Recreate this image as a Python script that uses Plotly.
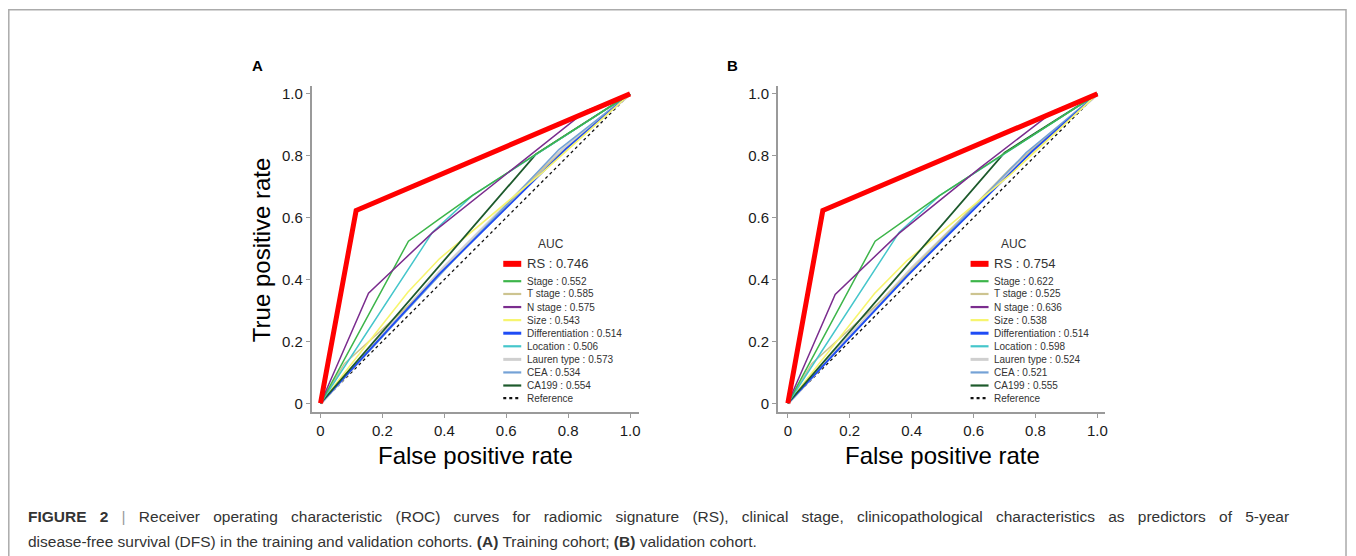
import plotly.graph_objects as go

# ---------------- data ----------------
labels = ["RS", "Stage", "T stage", "N stage", "Size", "Differentiation",
          "Location", "Lauren type", "CEA", "CA199"]
auc_A = ["0.746", "0.552", "0.585", "0.575", "0.543", "0.514", "0.506", "0.573", "0.534", "0.554"]
auc_B = ["0.754", "0.622", "0.525", "0.636", "0.538", "0.514", "0.598", "0.524", "0.521", "0.555"]
tick_vals = [0, 0.2, 0.4, 0.6, 0.8, 1.0]
tick_text = ["0", "0.2", "0.4", "0.6", "0.8", "1.0"]

# Panel A (training cohort) ROC points
A_rs_fpr = [0, 0.115, 1]
A_rs_tpr = [0, 0.623, 1]
A_stage_fpr = [0, 0.284, 0.384, 0.49, 0.696, 1]
A_stage_tpr = [0, 0.524, 0.596, 0.671, 0.805, 1]
A_tstage_fpr = [0, 0.077, 0.3, 0.72, 1]
A_tstage_tpr = [0, 0.128, 0.33, 0.76, 1]
A_nstage_fpr = [0, 0.155, 0.36, 0.6, 0.857, 1]
A_nstage_tpr = [0, 0.356, 0.55, 0.741, 0.945, 1]
A_size_fpr = [0, 0.282, 0.384, 0.717, 1]
A_size_tpr = [0, 0.359, 0.467, 0.746, 1]
A_diff_fpr = [0, 0.384, 0.793, 1]
A_diff_tpr = [0, 0.418, 0.822, 1]
A_loc_fpr = [0, 0.362, 0.49, 0.696, 1]
A_loc_tpr = [0, 0.553, 0.671, 0.805, 1]
A_lauren_fpr = [0, 0.4, 0.76, 1]
A_lauren_tpr = [0, 0.44, 0.8, 1]
A_cea_fpr = [0, 0.4, 0.77, 1]
A_cea_tpr = [0, 0.43, 0.82, 1]
A_ca199_fpr = [0, 0.696, 1]
A_ca199_tpr = [0, 0.805, 1]

# Panel B (validation cohort) ROC points
B_rs_fpr = [0, 0.113, 1]
B_rs_tpr = [0, 0.623, 1]
B_stage_fpr = [0, 0.282, 0.384, 0.49, 0.696, 1]
B_stage_tpr = [0, 0.524, 0.596, 0.671, 0.805, 1]
B_tstage_fpr = [0, 0.077, 0.3, 0.72, 1]
B_tstage_tpr = [0, 0.128, 0.33, 0.76, 1]
B_nstage_fpr = [0, 0.153, 0.36, 0.62, 0.86, 1]
B_nstage_tpr = [0, 0.352, 0.55, 0.76, 0.945, 1]
B_size_fpr = [0, 0.28, 0.384, 0.72, 1]
B_size_tpr = [0, 0.355, 0.46, 0.74, 1]
B_diff_fpr = [0, 0.384, 0.79, 1]
B_diff_tpr = [0, 0.41, 0.815, 1]
B_loc_fpr = [0, 0.36, 0.49, 0.696, 1]
B_loc_tpr = [0, 0.553, 0.671, 0.805, 1]
B_lauren_fpr = [0, 0.4, 0.76, 1]
B_lauren_tpr = [0, 0.435, 0.79, 1]
B_cea_fpr = [0, 0.4, 0.77, 1]
B_cea_tpr = [0, 0.425, 0.81, 1]
B_ca199_fpr = [0, 0.7, 1]
B_ca199_tpr = [0, 0.81, 1]

ref_x = [0, 1]
ref_y = [0, 1]

# ---------------- styles ----------------
colors = ["#ff0000", "#3db54a", "#cdc490", "#7b2d8e", "#f7f56e", "#1f4cf5",
          "#45c6cb", "#cfcfcf", "#74a2d6", "#1d5a2c"]
widths = [5, 1.5, 1.5, 1.5, 1.6, 1.8, 1.5, 3.5, 1.5, 1.8]
draw_order = [7, 2, 8, 5, 4, 9, 6, 1, 3, 0]

# page body has an 8px margin, so the figure is 8px smaller and offset
OFF = 8
W, H = 1356 - OFF, 556 - OFF
FONT = "Liberation Sans, Arial, Helvetica, sans-serif"


def px(x):
    return (x - OFF) / W


def py(y):
    return 1 - (y - OFF) / H


A_curves = [(A_rs_fpr, A_rs_tpr), (A_stage_fpr, A_stage_tpr), (A_tstage_fpr, A_tstage_tpr),
            (A_nstage_fpr, A_nstage_tpr), (A_size_fpr, A_size_tpr), (A_diff_fpr, A_diff_tpr),
            (A_loc_fpr, A_loc_tpr), (A_lauren_fpr, A_lauren_tpr), (A_cea_fpr, A_cea_tpr),
            (A_ca199_fpr, A_ca199_tpr)]
B_curves = [(B_rs_fpr, B_rs_tpr), (B_stage_fpr, B_stage_tpr), (B_tstage_fpr, B_tstage_tpr),
            (B_nstage_fpr, B_nstage_tpr), (B_size_fpr, B_size_tpr), (B_diff_fpr, B_diff_tpr),
            (B_loc_fpr, B_loc_tpr), (B_lauren_fpr, B_lauren_tpr), (B_cea_fpr, B_cea_tpr),
            (B_ca199_fpr, B_ca199_tpr)]

fig = go.Figure()

for curves, aucs, xa, ya in [(A_curves, auc_A, "x", "y"), (B_curves, auc_B, "x2", "y2")]:
    fig.add_trace(go.Scatter(x=ref_x, y=ref_y, mode="lines", xaxis=xa, yaxis=ya,
                             line=dict(color="#111111", width=1.3, dash="dot"),
                             name="Reference", showlegend=False, hoverinfo="skip"))
    for i in draw_order:
        fx, ty = curves[i]
        fig.add_trace(go.Scatter(x=fx, y=ty, mode="lines", xaxis=xa, yaxis=ya,
                                 line=dict(color=colors[i], width=widths[i]),
                                 name=f"{labels[i]} : {aucs[i]}", showlegend=False))

axis_common = dict(showline=True, linecolor="#9a9a9a", linewidth=1.5, ticks="outside",
                   ticklen=4, tickcolor="#9a9a9a", tickwidth=1, tickvals=tick_vals,
                   ticktext=tick_text, showgrid=False, zeroline=False,
                   tickfont=dict(family=FONT, size=15, color="#1a1a1a"), mirror=False)

fig.update_layout(
    width=W, height=H, margin=dict(l=0, r=0, t=0, b=0),
    paper_bgcolor="white", plot_bgcolor="white", showlegend=False,
    xaxis=dict(domain=[px(312), px(640)], range=[-9 / 310, 319 / 310], anchor="y", **axis_common),
    yaxis=dict(domain=[py(412), py(85)], range=[-9 / 310, 318 / 310], anchor="x", **axis_common),
    xaxis2=dict(domain=[px(779), px(1107)], range=[-10 / 310, 318 / 310], anchor="y2", **axis_common),
    yaxis2=dict(domain=[py(412), py(85)], range=[-9 / 310, 318 / 310], anchor="x2", **axis_common),
)

shapes = []
annotations = []

# outer frame
shapes.append(dict(type="rect", xref="paper", yref="paper", x0=px(8.8), x1=px(1348),
                   y0=-0.1, y1=py(8.8), line=dict(color="#ababab", width=1.5)))

# panel letters
for letter, xc in [("A", 258), ("B", 734)]:
    annotations.append(dict(text=f"<b>{letter}</b>", x=px(xc), y=py(65), xref="paper", yref="paper",
                            showarrow=False, xanchor="center", yanchor="middle",
                            font=dict(family=FONT, size=15, color="#000")))

# axis titles
for xc in [476, 944]:
    annotations.append(dict(text="False positive rate", x=px(xc), y=py(455), xref="paper", yref="paper",
                            showarrow=False, xanchor="center", yanchor="middle",
                            font=dict(family=FONT, size=24, color="#000")))
annotations.append(dict(text="True positive rate", x=px(262), y=py(249), xref="paper", yref="paper",
                        showarrow=False, xanchor="center", yanchor="middle", textangle=-90,
                        font=dict(family=FONT, size=24, color="#000")))

# manual legends
legend_rows_y = [263.3, 280.7, 293.5, 306.6, 319.7, 332.8, 345.9, 359.0, 372.1, 385.2]
for aucs, title_x, line_x0, text_x in [(auc_A, 552, 504, 525.5), (auc_B, 1015, 972, 993)]:
    annotations.append(dict(text="AUC", x=px(title_x), y=py(243.3), xref="paper", yref="paper",
                            showarrow=False, xanchor="center", yanchor="middle",
                            font=dict(family=FONT, size=12, color="#333")))
    for i in range(len(labels)):
        yy = legend_rows_y[i]
        lw = 6 if i == 0 else (3 if i in (5, 7) else 2.2)
        shapes.append(dict(type="line", xref="paper", yref="paper", x0=px(line_x0), x1=px(line_x0 + 18),
                           y0=py(yy), y1=py(yy), line=dict(color=colors[i], width=lw)))
        annotations.append(dict(text=f"{labels[i]} : {aucs[i]}", x=px(text_x), y=py(yy),
                                xref="paper", yref="paper", showarrow=False,
                                xanchor="left", yanchor="middle",
                                font=dict(family=FONT, size=13 if i == 0 else 10, color="#333")))
    yy = 397.9
    shapes.append(dict(type="line", xref="paper", yref="paper", x0=px(line_x0), x1=px(line_x0 + 18),
                       y0=py(yy), y1=py(yy), line=dict(color="#111", width=2.2, dash="dot")))
    annotations.append(dict(text="Reference", x=px(text_x), y=py(yy), xref="paper", yref="paper",
                            showarrow=False, xanchor="left", yanchor="middle",
                            font=dict(family=FONT, size=10, color="#333")))

# caption (first line is justified in the original)
cap1 = ("<span style='word-spacing:8.9px'><b>FIGURE 2</b> <span style='color:#999'>|</span> "
        "Receiver operating characteristic (ROC) curves for "
        "radiomic signature (RS), clinical stage, clinicopathological characteristics as "
        "predictors of 5-year</span>")
cap2 = ("disease-free survival (DFS) in the training and validation cohorts. <b>(A)</b> Training cohort; "
        "<b>(B)</b> validation cohort.")
for txt, yc in [(cap1, 516), (cap2, 541)]:
    annotations.append(dict(text=txt, x=px(26), y=py(yc), xref="paper", yref="paper",
                            showarrow=False, xanchor="left", yanchor="middle",
                            font=dict(family=FONT, size=15.5, color="#333")))

fig.update_layout(shapes=shapes, annotations=annotations)
fig.write_html("out.html")
